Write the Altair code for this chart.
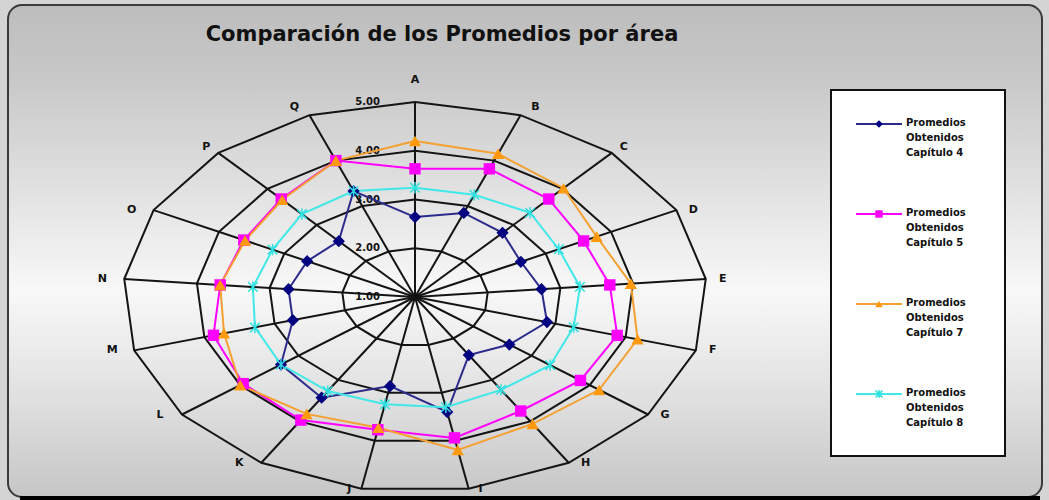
import altair as alt
import numpy as np
import pandas as pd

# ---------------- data ----------------
categories = list("ABCDEFGHIJKLMNOPQ")
cap4 = [2.64, 2.85, 2.78, 2.62, 2.74, 2.88, 2.62, 2.40, 3.40, 2.86, 3.43, 3.30, 2.74, 2.74, 2.65, 2.55, 3.33]
cap5 = [3.63, 3.82, 3.72, 3.58, 3.68, 3.88, 3.84, 3.75, 3.94, 3.77, 3.97, 3.95, 3.87, 3.68, 3.62, 3.72, 4.00]
cap7 = [4.20, 4.15, 4.02, 3.78, 3.97, 4.17, 4.16, 4.06, 4.19, 3.73, 3.82, 4.00, 3.72, 3.68, 3.60, 3.70, 4.00]
cap8 = [3.24, 3.25, 3.34, 3.20, 3.27, 3.26, 3.32, 3.24, 3.30, 3.24, 3.27, 3.30, 3.28, 3.23, 3.18, 3.30, 3.33]
series_values = [cap4, cap5, cap7, cap8]
series_names = [
    "Promedios\nObtenidos\nCapítulo 4",
    "Promedios\nObtenidos\nCapítulo 5",
    "Promedios\nObtenidos\nCapítulo 7",
    "Promedios\nObtenidos\nCapítulo 8",
]
ring_values = [1.0, 2.0, 3.0, 4.0, 5.0]
ring_labels = ["1.00", "2.00", "3.00", "4.00", "5.00"]
title_text = "Comparación de los Promedios por área"

# ---------------- styles ----------------
line_colors = ["#2b2b8c", "#ff00ff", "#f5a030", "#40e8e8"]
marker_colors = ["#000080", "#ff00ff", "#ff9a10", "#30e0e0"]
ASTERISK = "M-1,-1L1,1M-1,1L1,-1M0,-1.2L0,1.2"
marker_shapes = ["diamond", "square", "triangle-up", ASTERISK]
marker_sizes = [150, 130, 150, 90]
legend_sizes = [60, 55, 60, 45]
marker_filled = [True, True, True, False]

W, H = 1049, 500
CX, CY = 415.0, 297.0
SX, SY = 73.0, 48.75
VMIN, VMAX = ring_values[0], ring_values[-1]
RMAX = VMAX - VMIN

n = len(categories)
theta = np.arange(n) * 2 * np.pi / n
sn, cs = np.sin(theta), np.cos(theta)

xs = alt.Scale(domain=[(0 - CX) / SX, (W - CX) / SX], nice=False, zero=False)
ys = alt.Scale(domain=[(CY - H) / SY, CY / SY], nice=False, zero=False)


def X(f):
    return alt.X(f, type="quantitative", scale=xs, axis=None)


def Y(f):
    return alt.Y(f, type="quantitative", scale=ys, axis=None)


dummy = alt.Data(values=[{"a": 1}])

# ---------------- grid ----------------
ring_rows = []
for rv in ring_values[1:]:
    r = rv - VMIN
    for k in range(n + 1):
        kk = k % n
        ring_rows.append({"ring": rv, "o": k, "x": r * sn[kk], "y": r * cs[kk]})
ring_df = pd.DataFrame(ring_rows)

spoke_df = pd.DataFrame({"x": 0.0, "y": 0.0, "x2": RMAX * sn, "y2": RMAX * cs})

grid_rings = alt.Chart(ring_df).mark_line(color="#141414", strokeWidth=2).encode(
    x=X("x"), y=Y("y"), detail="ring:N", order="o:Q"
)
grid_spokes = alt.Chart(spoke_df).mark_rule(color="#141414", strokeWidth=2).encode(
    x=X("x"), y=Y("y"), x2="x2:Q", y2="y2:Q"
)

rl_df = pd.DataFrame({"x": 0.0, "y": [v - VMIN for v in ring_values], "t": ring_labels})
ring_text = alt.Chart(rl_df).mark_text(
    align="right", baseline="middle", dx=-35, fontSize=10, fontWeight="bold",
    font="DejaVu Sans", color="#111"
).encode(x=X("x"), y=Y("y"), text="t:N")

# category labels (offsets in pixels, converted to data units)
lab_rows = []
for k, c in enumerate(categories):
    s, co = sn[k], cs[k]
    sg = 1 if s > 0 else -1
    if abs(s) < 0.1:
        ox, oy = 0, -22
    elif co > 0.85:
        ox, oy = 15 * sg, -8
    elif co > 0.7:
        ox, oy = 12 * sg, -6
    elif co < -0.95:
        ox, oy = 12 * sg, 0
    else:
        ox, oy = (17 if sg > 0 else -22), 0
    lab_rows.append({"t": c, "x": RMAX * s + ox / SX, "y": RMAX * co - oy / SY})
lab_df = pd.DataFrame(lab_rows)
cat_text = alt.Chart(lab_df).mark_text(
    align="center", baseline="middle", fontSize=11, fontWeight="bold",
    font="DejaVu Sans", color="#111"
).encode(x=X("x"), y=Y("y"), text="t:N")

# ---------------- series ----------------
line_layers, point_layers = [], []
for i, vals in enumerate(series_values):
    rows = []
    for k in range(n + 1):
        kk = k % n
        r = vals[kk] - VMIN
        rows.append({"cat": categories[kk], "v": vals[kk], "o": k,
                     "x": r * sn[kk], "y": r * cs[kk]})
    df = pd.DataFrame(rows)
    line_layers.append(
        alt.Chart(df).mark_line(color=line_colors[i], strokeWidth=2).encode(
            x=X("x"), y=Y("y"), order="o:Q")
    )
    pdf = df[df.o < n]
    if marker_filled[i]:
        pm = alt.Chart(pdf).mark_point(shape=marker_shapes[i], filled=True, opacity=1,
                                       size=marker_sizes[i], color=marker_colors[i])
    else:
        pm = alt.Chart(pdf).mark_point(shape=marker_shapes[i], filled=False, opacity=1,
                                       size=marker_sizes[i], color=marker_colors[i],
                                       strokeWidth=1.5)
    point_layers.append(pm.encode(x=X("x"), y=Y("y")))

# ---------------- decorations ----------------
bg = alt.Chart(dummy).mark_rect(
    fill=alt.Gradient(
        gradient="linear",
        stops=[
            alt.GradientStop(color="#bdbdbd", offset=0),
            alt.GradientStop(color="#c8c8c8", offset=0.15),
            alt.GradientStop(color="#f8f8f8", offset=0.58),
            alt.GradientStop(color="#e0e0e0", offset=0.8),
            alt.GradientStop(color="#c6c6c6", offset=1),
        ],
        x1=0, x2=0, y1=0, y2=1,
    ),
    stroke="#3a3a3a", strokeWidth=2, cornerRadius=14,
).encode(x=alt.value(8), x2=alt.value(1042), y=alt.value(5), y2=alt.value(497))

bottom_line = alt.Chart(dummy).mark_rule(color="#000", strokeWidth=4).encode(
    x=alt.value(20), x2=alt.value(1040), y=alt.value(498)
)

title = alt.Chart(dummy).mark_text(
    text=title_text, fontSize=21, fontWeight="bold", font="DejaVu Sans",
    color="#111", align="center", baseline="middle"
).encode(x=alt.value(442), y=alt.value(35))

legend_box = alt.Chart(dummy).mark_rect(fill="white", stroke="#111", strokeWidth=2).encode(
    x=alt.value(831), x2=alt.value(1005), y=alt.value(90), y2=alt.value(456)
)

legend_layers = []
for i, name in enumerate(series_names):
    ly = 124 + 90 * i
    ldf = pd.DataFrame({"label": [name]})
    legend_layers.append(
        alt.Chart(ldf).mark_rule(color=line_colors[i], strokeWidth=2).encode(
            x=alt.value(856), x2=alt.value(902), y=alt.value(ly))
    )
    if marker_filled[i]:
        lm = alt.Chart(ldf).mark_point(shape=marker_shapes[i], filled=True, opacity=1,
                                       size=legend_sizes[i], color=marker_colors[i])
    else:
        lm = alt.Chart(ldf).mark_point(shape=marker_shapes[i], filled=False, opacity=1,
                                       size=legend_sizes[i], color=marker_colors[i],
                                       strokeWidth=1.5)
    legend_layers.append(lm.encode(x=alt.value(879), y=alt.value(ly)))
    legend_layers.append(
        alt.Chart(ldf).mark_text(
            align="left", baseline="top", lineBreak="\n", lineHeight=15,
            fontSize=10, fontWeight="bold", font="DejaVu Sans", color="#111"
        ).encode(x=alt.value(906), y=alt.value(ly - 6), text="label:N")
    )

chart = alt.layer(
    bg, grid_rings, grid_spokes, ring_text, cat_text,
    *line_layers, *point_layers,
    legend_box, *legend_layers, title, bottom_line,
).properties(
    width=W, height=H, autosize=alt.AutoSizeParams(type="none"), padding=0,
    background="#d4d4d4",
).configure_view(stroke=None)

chart.save("out.html", embed_options={"renderer": "svg", "actions": False})
